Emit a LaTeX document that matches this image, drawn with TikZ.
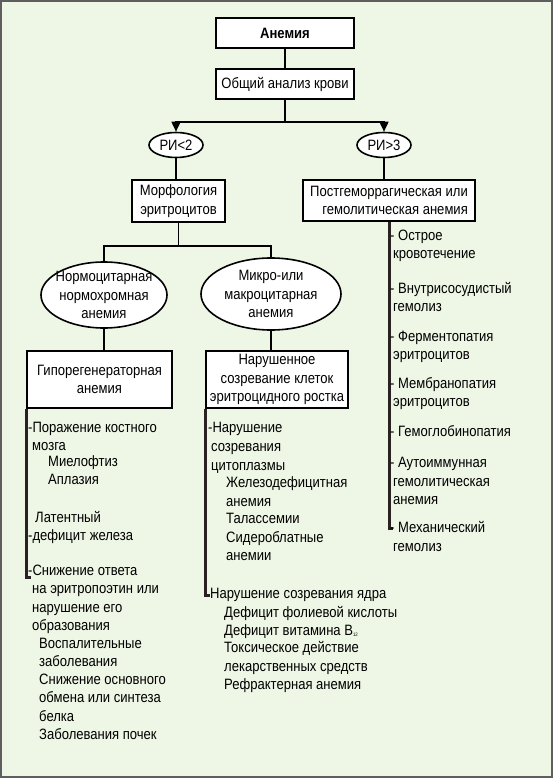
\documentclass[tikz,border=0pt]{standalone}
\usepackage{fontspec}
\setmainfont{Liberation Sans}[FakeStretch=0.87]
\usepackage{xcolor}
\definecolor{paleGreen}{HTML}{EEF6E5}
\definecolor{frameGray}{HTML}{5E5E5E}
\definecolor{spineDark}{HTML}{2A2222}
\usetikzlibrary{shapes.geometric,arrows.meta}

\tikzset{
  txt/.style={font=\fontsize{15}{18.5}\selectfont, inner sep=0pt, align=center},
  box/.style={draw, fill=white, line width=1.6pt, inner sep=0pt,
    font=\fontsize{15}{18.5}\selectfont, align=center},
  oval/.style={draw, fill=white, ellipse, line width=1.6pt, inner sep=0pt},
  conn/.style={line width=1.6pt},
  spine/.style={line width=3pt, draw=spineDark},
  item/.style={font=\fontsize{15}{18.5}\selectfont, anchor=west, inner sep=0pt,
    text height=11pt, text depth=3pt},
}

\begin{document}
\begin{tikzpicture}[x=1pt, y=-1pt, >={Triangle[width=9pt,length=10pt]}]
  % ------- frame -------
  \draw[fill=paleGreen, draw=frameGray, line width=2pt] (1,1) rectangle (552,777);
  \useasboundingbox (0,0) rectangle (553,778);

  % ------- top of the tree -------
  \node[box, minimum width=138pt, minimum height=30pt, font=\fontsize{15}{18.5}\selectfont\bfseries]
    (anemia) at (285,33) {Анемия};
  \node[box, minimum width=138pt, minimum height=30pt] (cbc) at (285,84) {Общий анализ крови};
  \node[oval, minimum width=54pt, minimum height=25pt, label={[txt]center:{РИ<2}}] (ri2) at (176,145) {};
  \node[oval, minimum width=54pt, minimum height=25pt, label={[txt]center:{РИ>3}}] (ri3) at (384,145) {};
  \node[box, minimum width=93pt, minimum height=42pt] (morph) at (178.5,201) {Морфология\\эритроцитов};
  \node[box, minimum width=172pt, minimum height=41pt, align=right] (posthem) at (389,200.5)
    {Постгеморрагическая или\\гемолитическая анемия};

  % ------- left branch: morphology -------
  \node[oval, minimum width=126pt, minimum height=66pt,
    label={[txt]center:{Нормоцитарная\\нормохромная\\анемия}}] (normo) at (104,295) {};
  \node[oval, minimum width=140pt, minimum height=72pt,
    label={[txt]center:{Микро-или\\макроцитарная\\анемия}}] (micro) at (271,294) {};
  \node[box, minimum width=145pt, minimum height=57pt] (hypo) at (99.5,379.5)
    {Гипорегенераторная\\анемия};
  \node[box, minimum width=142pt, minimum height=57pt] (matur) at (277,379.5)
    {Нарушенное\\созревание клеток\\эритроцидного ростка};

  % ------- connectors -------
  \draw[conn] (anemia) -- (cbc);
  \draw[conn,->] (cbc.south) -- ++(0,22) -| (ri2.north);
  \draw[conn,->] (cbc.south) -- ++(0,22) -| (ri3.north);
  \draw[conn] (ri2.south) -- (ri2.south |- morph.north);
  \draw[conn] (ri3.south) -- (ri3.south |- posthem.north);
  \draw[conn] (morph.south) -- ++(0,23) -| (normo.north);
  \draw[conn] (morph.south) -- ++(0,23) -| (micro.north);
  \draw[conn] (normo.south) -- (normo.south |- hypo.north);
  \draw[conn] (micro.south) -- (micro.south |- matur.north);

  % ------- spines under the lists -------
  \coordinate (hypoend) at (31,577);
  \coordinate (maturend) at (210,595);
  \coordinate (posthemend) at (393,528);
  \draw[spine] (hypo.south west) |- (hypoend);
  \draw[spine] (matur.south west) |- (maturend);
  \draw[spine] (posthem.south) |- (posthemend);

  % ------- lists -------
  \foreach \x/\y/\t [count=\i] in {
    28/428/{-Поражение костного}, 32/446/{мозга}, 48/462/{Миелофтиз}, 48/480/{Аплазия},
    35/518/{Латентный}, 28/536/{-дефицит железа},
    28/571/{-Снижение ответа}, 32/589/{на эритропоэтин или}, 32/608/{нарушение его},
    32/626/{образования}, 39/644/{Воспалительные}, 39/662/{заболевания},
    39/680/{Снижение основного}, 39/698/{обмена или синтеза}, 39/717/{белка},
    39/735/{Заболевания почек}}
    \node[item] (lft\i) at (\x,\y) {\t};

  \foreach \x/\y/\t [count=\i] in {
    208/428/{-Нарушение}, 211/447/{созревания}, 211/466/{цитоплазмы},
    226/483/{Железодефицитная}, 226/502/{анемия}, 226/519/{Талассемии},
    226/538/{Сидероблатные}, 226/556/{анемии},
    210/594/{Нарушение созревания ядра}, 224/613/{Дефицит фолиевой кислоты},
    224/631/{Дефицит витамина B{\fontsize{5}{5}\selectfont\raisebox{-1pt}{12}}},
    224/648/{Токсическое действие}, 224/667/{лекарственных средств},
    224/685/{Рефрактерная анемия}}
    \node[item] (mid\i) at (\x,\y) {\t};

  \foreach \x/\y/\t [count=\i] in {
    390/236/{- Острое}, 393/254/{кровотечение},
    390/289/{- Внутрисосудистый}, 393/307/{гемолиз},
    390/337/{- Ферментопатия}, 393/355/{эритроцитов},
    390/384/{- Мембранопатия}, 393/402/{эритроцитов},
    390/432/{- Гемоглобинопатия},
    390/463/{- Аутоиммунная}, 393/482/{гемолитическая}, 393/500/{анемия},
    390/528/{- Механический}, 393/547/{гемолиз}}
    \node[item] (rgt\i) at (\x,\y) {\t};
\end{tikzpicture}
\end{document}
